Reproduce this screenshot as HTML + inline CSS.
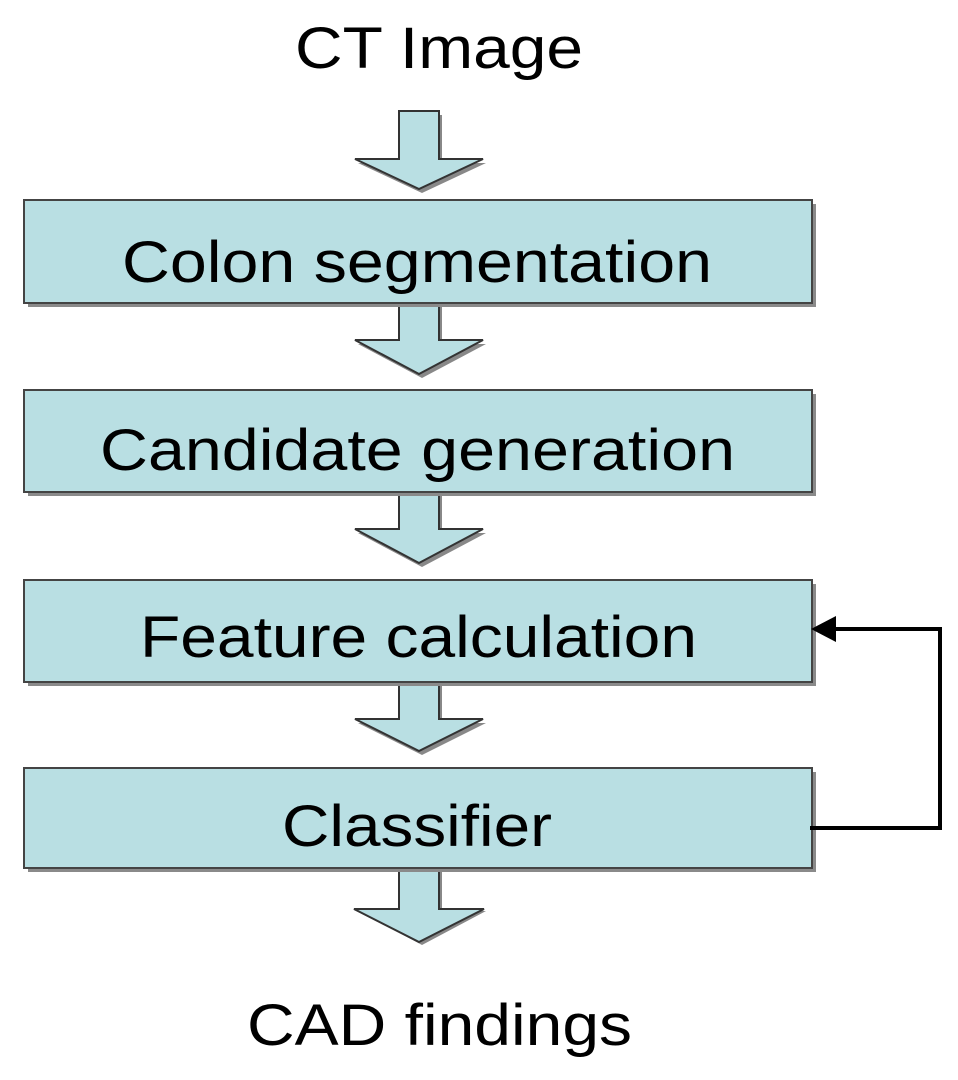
<!DOCTYPE html>
<html><head><meta charset="utf-8"><style>
html,body{margin:0;padding:0;background:#fff;}
svg{display:block;}
text{font-family:"Liberation Sans",Arial,sans-serif;font-size:58px;fill:#000;}
</style></head><body>
<svg width="958" height="1080" viewBox="0 0 958 1080" xmlns="http://www.w3.org/2000/svg">
<text x="295" y="68" textLength="288" lengthAdjust="spacingAndGlyphs">CT Image</text>
<g fill="#888" stroke="none">
<polygon transform="translate(422,115)" points="-20,0 20,0 20,48 64,48 0,78 -64,48 -20,48"/>
<polygon transform="translate(422,306)" points="-20,0 20,0 20,38 64,38 0,72 -64,38 -20,38"/>
<polygon transform="translate(422,495)" points="-20,0 20,0 20,38 64,38 0,72 -64,38 -20,38"/>
<polygon transform="translate(422,685)" points="-20,0 20,0 20,38 64,38 0,70 -64,38 -20,38"/>
<polygon transform="translate(422,871)" points="-20,0 20,0 20,40 64,40 0,74 -64,40 -20,40"/>
</g>
<g fill="#b9dfe3" stroke="#333" stroke-width="2">
<polygon transform="translate(419,111)" points="-20,0 20,0 20,48 64,48 0,78 -64,48 -20,48"/>
<polygon transform="translate(419,300)" points="-20,0 20,0 20,40 64,40 0,74 -64,40 -20,40"/>
<polygon transform="translate(419,489)" points="-20,0 20,0 20,40 64,40 0,74 -64,40 -20,40"/>
<polygon transform="translate(419,679)" points="-20,0 20,0 20,40 64,40 0,72 -64,40 -20,40"/>
<polygon transform="translate(419,865)" points="-20,0 20,0 20,44 65,44 0,77 -65,44 -20,44"/>
</g>
<g fill="#8a8a8a">
<rect x="28" y="204" width="788" height="103"/>
<rect x="28" y="394" width="788" height="102"/>
<rect x="28" y="584" width="788" height="102"/>
<rect x="28" y="772" width="788" height="100"/>
</g>
<g fill="#b9dfe3" stroke="#444" stroke-width="2">
<rect x="24" y="200" width="788" height="103"/>
<rect x="24" y="390" width="788" height="102"/>
<rect x="24" y="580" width="788" height="102"/>
<rect x="24" y="768" width="788" height="100"/>
</g>
<text x="122" y="282" textLength="590" lengthAdjust="spacingAndGlyphs">Colon segmentation</text>
<text x="100" y="470" textLength="635" lengthAdjust="spacingAndGlyphs">Candidate generation</text>
<text x="140" y="657" textLength="557" lengthAdjust="spacingAndGlyphs">Feature calculation</text>
<text x="282" y="846" textLength="270" lengthAdjust="spacingAndGlyphs">Classifier</text>
<polyline points="810,828 940,828 940,629 832,629" fill="none" stroke="#000" stroke-width="4"/>
<polygon points="811,629 836,616 836,642" fill="#000"/>
<text x="247" y="1045" textLength="385" lengthAdjust="spacingAndGlyphs">CAD findings</text>
</svg>
</body></html>
